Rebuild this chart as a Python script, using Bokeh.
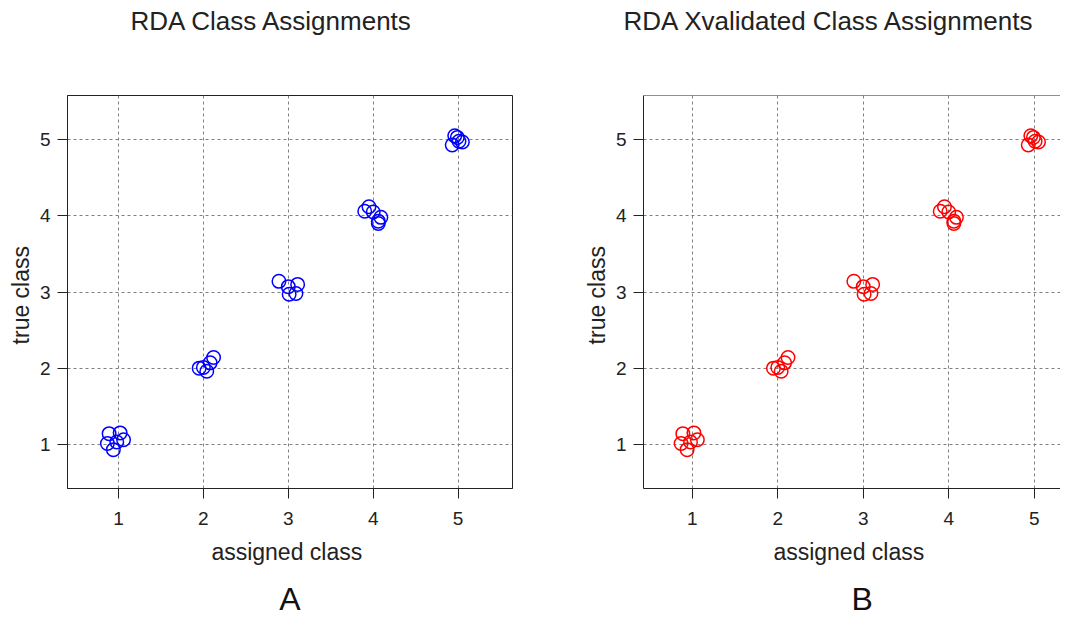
from bokeh.plotting import figure
from bokeh.layouts import row
from bokeh.models import Title, Span, FixedTicker, Range1d
from bokeh.embed import file_html
from bokeh.resources import INLINE

# ---- data ----
class_ticks = [1, 2, 3, 4, 5]
tick_labels = ["1", "2", "3", "4", "5"]

assigned_class_A = [0.89, 1.02, 1.06, 0.87, 0.94, 0.98,
                    2.12, 2.08, 2.00, 2.04, 1.95,
                    2.89, 3.00, 3.11, 3.01, 3.09,
                    3.90, 3.95, 4.00, 4.06, 4.09, 4.06,
                    4.96, 4.93, 5.01, 5.05, 4.99]
true_class_A = [1.14, 1.15, 1.06, 1.01, 0.93, 1.03,
                2.14, 2.07, 2.01, 1.96, 2.00,
                3.14, 3.07, 3.10, 2.97, 2.98,
                4.06, 4.12, 4.05, 3.93, 3.98, 3.90,
                5.05, 4.93, 4.98, 4.97, 5.03]

assigned_class_B = [0.89, 1.02, 1.06, 0.87, 0.94, 0.98,
                    2.12, 2.08, 2.00, 2.04, 1.95,
                    2.89, 3.00, 3.11, 3.01, 3.09,
                    3.90, 3.95, 4.00, 4.06, 4.09, 4.06,
                    4.96, 4.93, 5.01, 5.05, 4.99]
true_class_B = [1.14, 1.15, 1.06, 1.01, 0.93, 1.03,
                2.14, 2.07, 2.01, 1.96, 2.00,
                3.14, 3.07, 3.10, 2.97, 2.98,
                4.06, 4.12, 4.05, 3.93, 3.98, 3.90,
                5.05, 4.93, 4.98, 4.97, 5.03]

FONT = "Liberation Sans"
FRAME = "#222222"
HEIGHT = 617


def make_panel(title, letter, xs, ys, color, width, x_start, x_end, mb_left,
               mb_right, title_offset, letter_align, letter_offset, full_box):
    p = figure(width=width, height=HEIGHT,
               x_range=Range1d(x_start, x_end), y_range=Range1d(0.42, 5.58),
               output_backend="svg", toolbar_location=None,
               min_border_left=mb_left, min_border_right=mb_right,
               min_border_top=95, min_border_bottom=HEIGHT - 488)
    p.background_fill_color = "white"
    p.border_fill_color = "white"

    p.scatter(xs, ys, marker="circle", size=13.5, fill_color=None,
              line_color=color, line_width=1.5)

    # title (outermost above panel) + spacer between it and the frame
    p.title.text = title
    p.title.align = "left"
    p.title.offset = title_offset
    p.title.standoff = 0
    p.title.text_font = FONT
    p.title.text_font_size = "26px"
    p.title.text_font_style = "normal"
    p.title.text_color = "#222222"
    spacer = Title(text=" ", text_font_size="2px", standoff=56)
    p.add_layout(spacer, "above")

    for ax in (p.xaxis[0], p.yaxis[0]):
        ax.ticker = FixedTicker(ticks=class_ticks)
        ax.major_label_overrides = {t: l for t, l in zip(class_ticks, tick_labels)}
        ax.major_tick_out = 10
        ax.major_tick_in = 0
        ax.minor_tick_out = 0
        ax.minor_tick_in = 0
        ax.major_tick_line_color = FRAME
        ax.axis_line_color = FRAME
        ax.major_label_text_font = FONT
        ax.major_label_text_font_size = "19px"
        ax.major_label_text_color = "#222222"
        ax.axis_label_text_font = FONT
        ax.axis_label_text_font_size = "23px"
        ax.axis_label_text_font_style = "normal"
        ax.axis_label_text_color = "#222222"

    p.xaxis.axis_label = "assigned  class"
    p.xaxis.major_label_standoff = 13
    p.xaxis.axis_label_standoff = 11
    p.yaxis.axis_label = "true  class"
    p.yaxis.major_label_standoff = 7
    p.yaxis.axis_label_standoff = 3
    p.yaxis.major_label_orientation = "horizontal"

    for g in (p.xgrid[0], p.ygrid[0]):
        g.ticker = FixedTicker(ticks=class_ticks)
        g.grid_line_color = "#808080"
        g.grid_line_dash = "3 3"
        g.grid_line_width = 1

    if full_box:
        p.outline_line_color = FRAME
        p.outline_line_width = 1
    else:
        p.outline_line_color = None
        p.add_layout(Span(location=5.58, dimension="width",
                          line_color=FRAME, line_width=1))

    # panel letter below the axis label (padding order: left, right, top, bottom)
    lab = Title(text=letter, align=letter_align, offset=letter_offset,
                standoff=0, padding=(0, 0, 11, 0),
                text_font=FONT, text_font_size="32px",
                text_font_style="normal", text_color="#111111")
    p.add_layout(lab, "below")
    return p


pA = make_panel("RDA Class Assignments", "A", assigned_class_A, true_class_A,
                "#0000FF", 530, 0.4, 5.64, 67, 18, 63, "center", 0, True)
pB = make_panel("RDA Xvalidated Class Assignments", "B", assigned_class_B,
                true_class_B, "#FF0000", 530, 0.43, 5.307, 113, 0, -20,
                "left", 208, False)

layout = row(pA, pB)
open("out.html", "w").write(file_html(layout, INLINE))
